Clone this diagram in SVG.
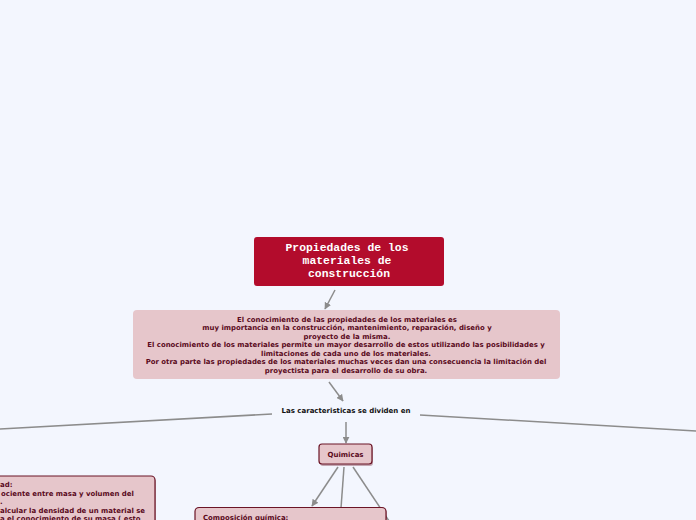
<svg xmlns="http://www.w3.org/2000/svg" width="696" height="520" viewBox="0 0 696 520">
<defs>
<style>
.bg{fill:#f3f6fe}
.desc{font-family:"DejaVu Sans",Verdana,sans-serif;font-weight:bold;font-size:6.95px;fill:#5a0a1c}
.lbl{font-family:"DejaVu Sans",Verdana,sans-serif;font-weight:bold;font-size:7px;fill:#111}
.node{fill:#e6c6cb;stroke:#6b1426;stroke-width:1.2}
.shadow{fill:#6b1426;opacity:0.35}
.title{font-family:"Liberation Mono","Courier New",monospace;font-weight:bold;font-size:11.4px;fill:#ffffff}
.conn{stroke:#8c8c8c;stroke-width:1.5;fill:none}
</style>
<marker id="ah" viewBox="0 0 10 10" refX="9" refY="5" markerWidth="7" markerHeight="7" markerUnits="userSpaceOnUse" orient="auto">
<path d="M0,0 L10,5 L0,10 z" fill="#8c8c8c"/>
</marker>
</defs>
<rect class="bg" x="0" y="0" width="696" height="520"/>

<g id="connectors">
<line class="conn" x1="335" y1="290" x2="325" y2="309" marker-end="url(#ah)"/>
<line class="conn" x1="329" y1="382" x2="343" y2="401" marker-end="url(#ah)"/>
<line class="conn" x1="272" y1="414" x2="-2" y2="429"/>
<line class="conn" x1="420" y1="415" x2="698" y2="431"/>
<line class="conn" x1="346" y1="422" x2="346" y2="443" marker-end="url(#ah)"/>
<line class="conn" x1="338" y1="467" x2="312" y2="506" marker-end="url(#ah)"/>
<line class="conn" x1="344" y1="467" x2="341" y2="508"/>
<line class="conn" x1="353" y1="467" x2="389" y2="521"/>
</g>

<g id="node-title">
<rect x="254" y="237" width="190" height="49" rx="3" fill="#b30c2c"/>
<text class="title" text-anchor="middle" x="347" y="251">Propiedades de los</text>
<text class="title" text-anchor="middle" x="347" y="264">materiales de</text>
<text class="title" text-anchor="middle" x="349" y="277">construcción</text>
</g>

<g id="node-desc">
<rect x="133" y="310" width="427" height="69" rx="4" fill="#e6c6cb"/>
<text class="desc" text-anchor="middle" x="347" y="322">El conocimiento de las propiedades de los materiales es</text>
<text class="desc" text-anchor="middle" x="347" y="330">muy importancia en la construcción, mantenimiento, reparación, diseño y</text>
<text class="desc" text-anchor="middle" x="347" y="339">proyecto de la misma.</text>
<text class="desc" text-anchor="middle" x="346" y="347">El conocimiento de los materiales permite un mayor desarrollo de estos utilizando  las posibilidades y</text>
<text class="desc" text-anchor="middle" x="346" y="356">limitaciones de cada uno de los materiales.</text>
<text class="desc" text-anchor="middle" x="346" y="364">Por otra parte las propiedades de los materiales muchas veces dan una consecuencia la limitación del</text>
<text class="desc" text-anchor="middle" x="346" y="373">proyectista para el desarrollo de su obra.</text>
</g>

<g id="node-caract">
<text class="lbl" text-anchor="middle" x="346" y="413">Las caracteristicas se dividen en</text>
</g>

<g id="node-quimicas">
<rect class="shadow" x="320" y="446" width="53" height="20" rx="3"/>
<rect class="node" x="319" y="444" width="53" height="20" rx="3"/>
<text class="desc" text-anchor="middle" x="345.5" y="457" style="font-size:7px">Quimicas</text>
</g>

<g id="node-densidad">
<rect class="shadow" x="-10" y="478" width="166" height="50" rx="4"/>
<rect class="node" x="-10" y="476" width="165" height="50" rx="4"/>
<text class="desc" x="0" y="487">ad:</text>
<text class="desc" x="1" y="496">ociente entre masa y volumen del</text>
<text class="desc" x="0" y="504">.</text>
<text class="desc" x="0" y="513">alcular la densidad de un material se</text>
<text class="desc" x="0" y="521">a el conocimiento de su masa ( esto</text>
</g>

<g id="node-composicion">
<rect class="shadow" x="196" y="509" width="191" height="20" rx="4"/>
<rect class="node" x="195" y="507.5" width="191" height="20" rx="4"/>
<text class="desc" x="203" y="520">Composición química:</text>
</g>
</svg>
